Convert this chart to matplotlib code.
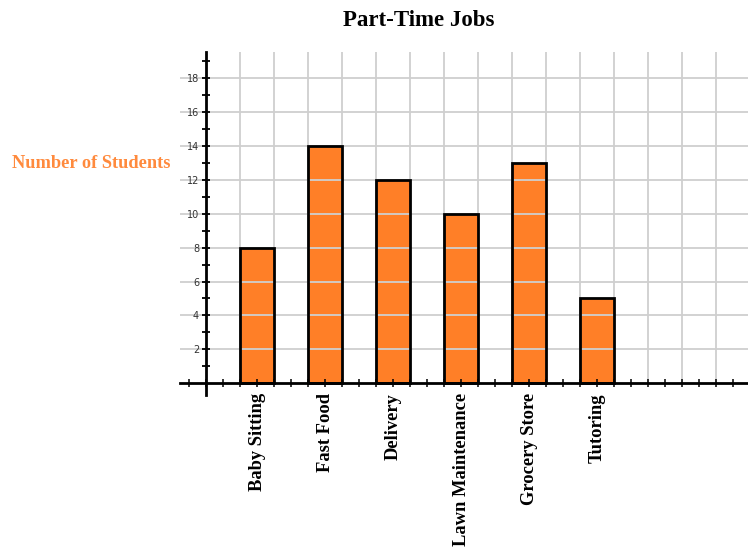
import matplotlib.pyplot as plt
import numpy as np

jobs = ['Baby Sitting', 'Fast Food', 'Delivery', 'Lawn Maintenance', 'Grocery Store', 'Tutoring']
students = [8, 14, 12, 10, 13, 5]

W, H = 748, 553
fig = plt.figure(figsize=(W/100, H/100), dpi=100)
# axes placed in pixels: x-axis line at y=383, y-axis at x=206
ax = fig.add_axes([180/W, (H-395)/H, (748-180)/W, (395-52)/H])
ax.set_xlim(-0.765, 15.94)
ax.set_ylim(-0.7, 19.55)

pos = np.arange(len(jobs))*2 + 1.5
# gridlines
ax.vlines(np.arange(1, 16), 0, 19.55, color='#cfcfcf', lw=1.3, zorder=0.5)
for gy in range(2, 19, 2):
    ax.axhline(gy, color='#cfcfcf', lw=1.3, zorder=1.5)

ax.bar(pos, students, width=1.0, color='#ff7f27', edgecolor='none', zorder=1)
ax.bar(pos, students, width=1.0, fill=False, edgecolor='black', lw=2, zorder=3)

for s in ['top', 'right']:
    ax.spines[s].set_visible(False)
ax.spines['left'].set_position(('data', 0))
ax.spines['bottom'].set_position(('data', 0))
ax.spines['left'].set_linewidth(2)
ax.spines['bottom'].set_linewidth(2)
ax.spines['left'].set_zorder(4)
ax.spines['bottom'].set_zorder(4)

ax.set_yticks(np.arange(2, 19, 2))
ax.set_yticks(np.arange(1, 20, 2), minor=True)
ax.set_xticks(np.arange(-0.5, 16, 0.5))
ax.tick_params(axis='y', which='both', direction='inout', length=6, width=1.3, pad=2,
               labelsize=7, labelcolor='#333333')
ax.tick_params(axis='x', which='both', direction='inout', length=6, width=1.1, labelbottom=False)

for p, name in zip(pos, jobs):
    ax.text(p, -0.6, name, rotation=90, ha='center', va='top', fontsize=13.3,
            fontweight='bold', family='Liberation Serif', clip_on=False)

fig.text(419/W, 1 - 20/H, 'Part-Time Jobs', ha='center', va='center', fontsize=16.5,
         fontweight='bold', family='Liberation Serif')
fig.text(91/W, 1 - 163/H, 'Number of Students', ha='center', va='center', fontsize=13.2,
         fontweight='bold', family='Liberation Serif', color='#ff8a3d')

fig.savefig('out.png', dpi=100)
